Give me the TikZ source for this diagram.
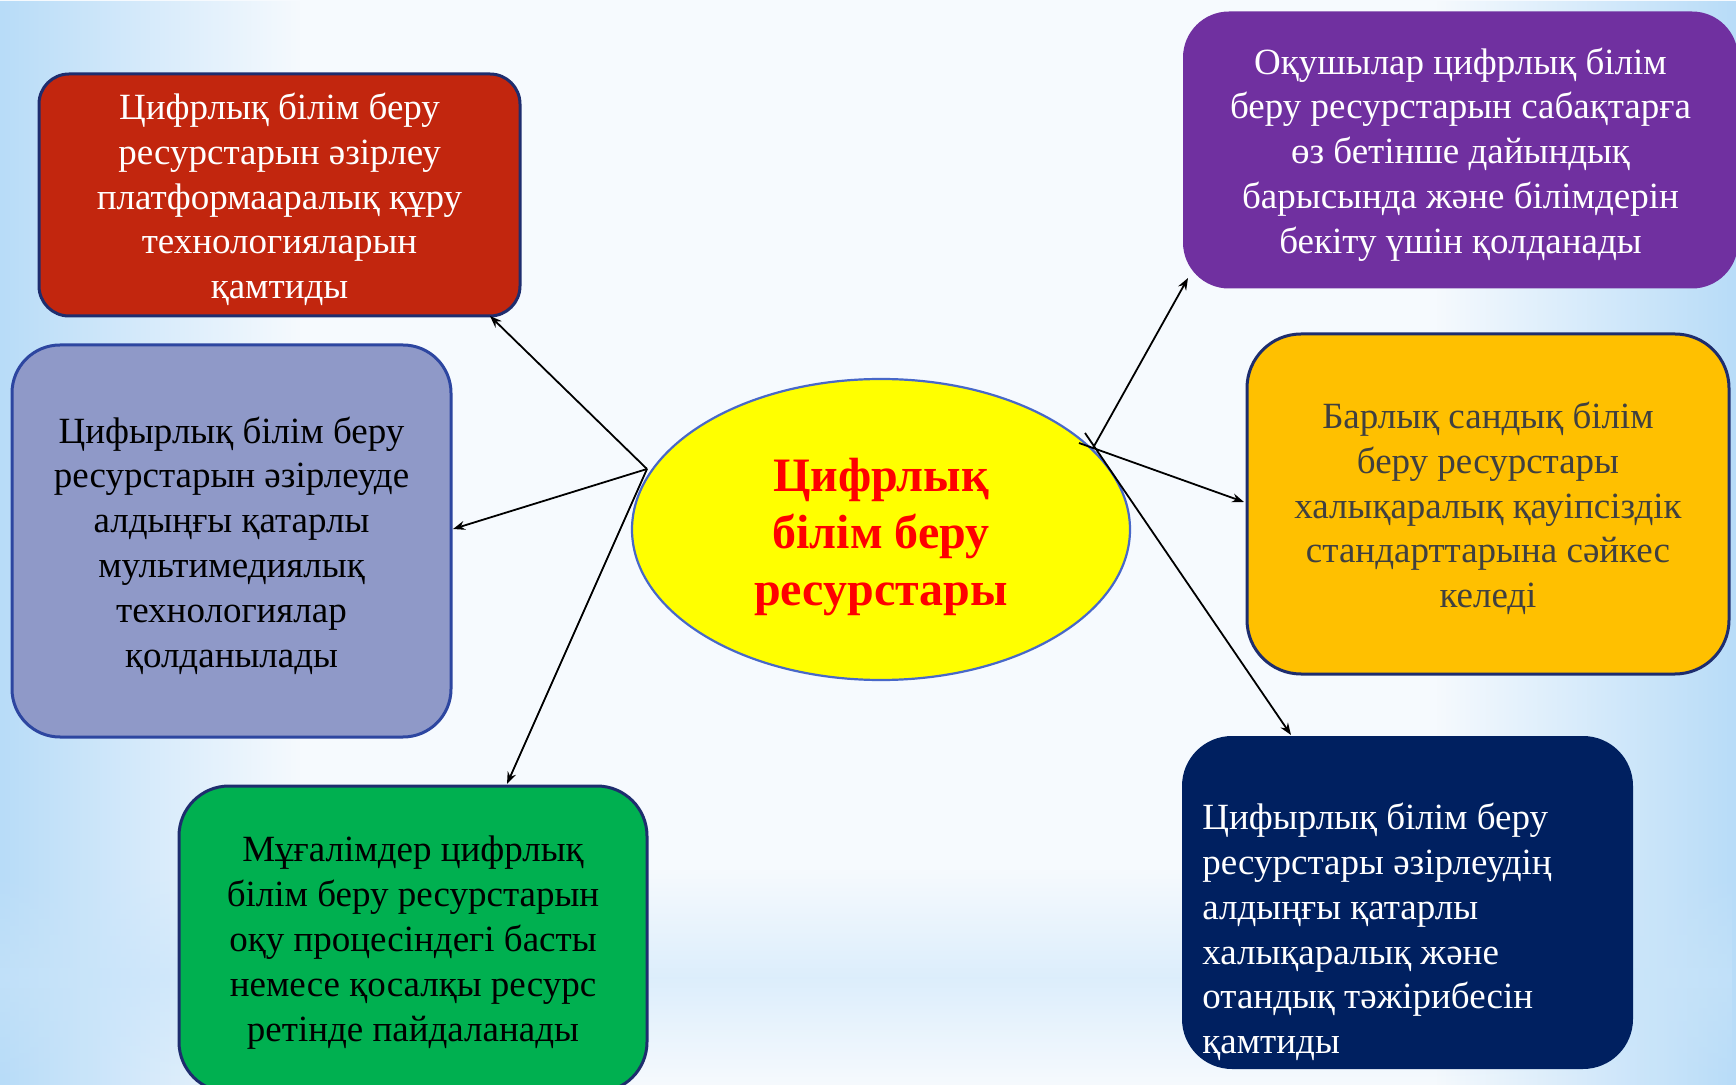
\documentclass[tikz,border=0pt]{standalone}
\usepackage{fontspec}
\setmainfont{Liberation Serif}
\usetikzlibrary{arrows.meta,shapes.geometric,fadings}
\definecolor{bgwhite}{RGB}{246,250,254}
\definecolor{bgblue}{RGB}{184,220,248}
\definecolor{bgband}{RGB}{200,228,250}
\definecolor{boxline}{RGB}{30,45,110}
\definecolor{redfill}{RGB}{194,38,14}
\definecolor{lavfill}{RGB}{143,153,200}
\definecolor{lavline}{RGB}{45,70,160}
\definecolor{greenfill}{RGB}{0,176,80}
\definecolor{purplefill}{RGB}{112,48,160}
\definecolor{orangefill}{RGB}{255,192,0}
\definecolor{navyfill}{RGB}{0,32,96}
\definecolor{ellline}{RGB}{72,104,200}
\definecolor{graytext}{RGB}{64,64,64}
\definecolor{titleyellow}{RGB}{255,255,0}
\tikzfading[name=bandfade, top color=transparent!100, bottom color=transparent!100, middle color=transparent!45]
\tikzfading[name=fadeR, left color=transparent!0, right color=transparent!100]
\tikzfading[name=fadeL, left color=transparent!100, right color=transparent!0]
\tikzset{
  box/.style={draw=boxline, line width=1.5pt, inner sep=0pt},
  txt/.style={align=center, inner sep=0pt, font=\fontsize{18.5}{22.4}\selectfont},
  conn/.style={draw=black, line width=0.9pt, -{Stealth[length=6pt,width=4.5pt,inset=2pt]}},
}
\begin{document}
\begin{tikzpicture}[x=0.5pt,y=-0.5pt]
\useasboundingbox (0,0) rectangle (1736,1085);
\fill[bgwhite] (0,0) rectangle (1736,1085);
\fill[bgblue, path fading=fadeR] (0,0) rectangle (300,1085);
\fill[bgblue, path fading=fadeL] (1436,0) rectangle (1736,1085);
\fill[bgband, path fading=bandfade] (0,870) rectangle (1736,1085);

% boxes
\node[box, fill=redfill, rounded corners=15pt,
  minimum width=240.5pt, minimum height=121pt] (red) at (279.5,195) {};
\node[box, draw=lavline, fill=lavfill, rounded corners=24pt,
  minimum width=219.5pt, minimum height=196pt] (lav) at (231.5,541) {};
\node[box, fill=greenfill, rounded corners=25pt,
  minimum width=234pt, minimum height=153pt] (green) at (413,939) {};
\node[box, draw=none, fill=purplefill, rounded corners=23pt,
  minimum width=277.5pt, minimum height=138.5pt] (purple) at (1460.5,150) {};
\node[box, fill=orangefill, rounded corners=27pt,
  minimum width=241pt, minimum height=170pt] (orange) at (1488,504) {};
\node[box, draw=none, fill=navyfill, rounded corners=25pt,
  minimum width=225.5pt, minimum height=166.5pt] (navy) at (1407.5,902.5) {};

% texts
\node[txt, text=white] (redtext) at (279.5,199.5)
  {Цифрлық білім беру\\ресурстарын әзірлеу\\платформааралық құру\\технологияларын\\қамтиды};
\node[txt, text=black] (lavtext) at (231.5,545.5)
  {Цифырлық білім беру\\ресурстарын әзірлеуде\\алдыңғы қатарлы\\мультимедиялық\\технологиялар\\қолданылады};
\node[txt, text=black] (greentext) at (413,942.5)
  {Мұғалімдер цифрлық\\білім беру ресурстарын\\оқу процесіндегі басты\\немесе қосалқы ресурс\\ретінде пайдаланады};
\node[txt, text=white] (purpletext) at (1460.5,154.5)
  {Оқушылар цифрлық білім\\беру ресурстарын сабақтарға\\өз бетінше дайындық\\барысында және білімдерін\\бекіту үшін қолданады};
\node[txt, text=graytext] (orangetext) at (1488,508.5)
  {Барлық сандық білім\\беру ресурстары\\халықаралық қауіпсіздік\\стандарттарына сәйкес\\келеді};
\node[txt, text=white, align=left, anchor=west] (navytext) at (1202,932)
  {Цифырлық білім беру\\ресурстары әзірлеудің\\алдыңғы қатарлы\\халықаралық және\\отандық тәжірибесін\\қамтиды};

% centre
\node[ellipse, draw=ellline, line width=1.1pt, fill=titleyellow, minimum width=249pt,
  minimum height=150.5pt, inner sep=0pt] (hub) at (881,529.5) {};
\node[txt, text=red, font=\bfseries\fontsize{24}{28.3}\selectfont] (hubtext) at (881,537)
  {Цифрлық\\білім беру\\ресурстары};

% connector points
\coordinate (hL) at (647,469);
\coordinate (hR1) at (1093,448);
\coordinate (hR2) at (1079,443);
\coordinate (hR3) at (1085,433);
\coordinate (tRed) at (490,316);
\coordinate (tLav) at (453,529);
\coordinate (tGreen) at (507,784);
\coordinate (tPurple) at (1188,278);
\coordinate (tOrange) at (1244,502);
\coordinate (tNavy) at (1291,735);

\draw[conn] (hL) -- (tRed);
\draw[conn] (hL) -- (tLav);
\draw[conn] (hL) -- (tGreen);
\draw[conn] (hR1) -- (tPurple);
\draw[conn] (hR2) -- (tOrange);
\draw[conn] (hR3) -- (tNavy);
\end{tikzpicture}
\end{document}
